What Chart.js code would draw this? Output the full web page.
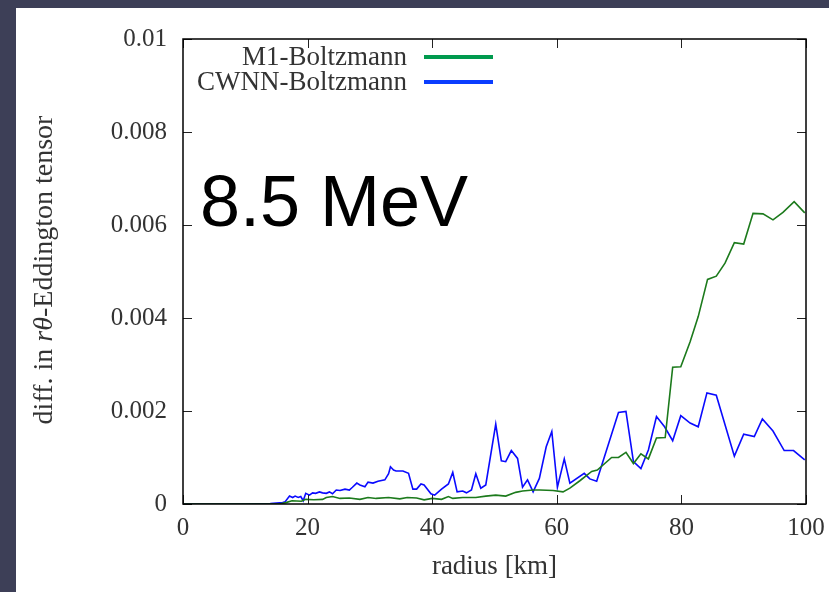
<!DOCTYPE html>
<html>
<head>
<meta charset="utf-8">
<script src="https://cdn.jsdelivr.net/npm/chart.js@4.4.1/dist/chart.umd.min.js"></script>
<style>
    html, body { margin: 0; padding: 0; background: #3d3f57; width: 829px; height: 592px; overflow: hidden; }
    #frame { position: absolute; left: 16px; top: 8px; width: 813px; height: 584px; background: #fff; }
</style>
</head>
<body>
<div id="frame"><canvas id="chart" width="813" height="584"></canvas></div>
<script>
// M1-Boltzmann curve
const m1Radius = [0, 15.5, 16.5, 17.5, 19, 19.7, 21, 22.4, 23, 24, 25.2, 26.7, 28.4, 29.7, 31, 33, 34.8, 36, 37.5, 38.7,
    40, 41.5, 42.6, 43.3, 44.9, 47, 48.6, 50.2, 51.8, 53.4, 54.5, 56.2, 57.3, 59.4, 61.0, 62.1, 63.7, 65.6, 66.5,
    68.8, 69.9, 71.1, 72.3, 73.5, 74.7, 76.0, 77.4, 78.6, 79.9, 81.4, 82.7, 84.2, 85.6, 87.0, 88.5, 90.0, 91.5,
    93.1, 94.7, 96.3, 98.1, 99.8];
const m1Diff = [0, 0, 0.00003, 0.00007, 0.00006, 0.0001, 0.00009, 0.0001, 0.00014, 0.00016, 0.00012, 0.00013, 0.0001,
    0.00014, 0.00012, 0.00014, 0.00011, 0.00014, 0.00013, 0.00009, 0.00012, 0.0001, 0.00016, 0.00012, 0.00014,
    0.00014, 0.00017, 0.00019, 0.00017, 0.00025, 0.00028, 0.0003, 0.0003, 0.00029, 0.00026, 0.00034, 0.0005,
    0.0007, 0.00073, 0.001, 0.001, 0.00111, 0.00087, 0.00108, 0.00097, 0.00142, 0.00143, 0.00294, 0.00295,
    0.00349, 0.00403, 0.00483, 0.0049, 0.00518, 0.00562, 0.00559, 0.00625, 0.00624, 0.00611, 0.00627, 0.0065,
    0.00626];

// CWNN-Boltzmann curve
const cwnnRadius = [0, 10, 14, 16.0, 16.4, 17.1, 17.6, 18.0, 18.5, 18.9, 19.3, 19.7, 20.3, 20.8, 21.3, 21.9, 22.4, 23.0,
    23.5, 24.0, 24.6, 25.2, 26.0, 26.7, 27.2, 27.9, 28.4, 29.2, 29.7, 30.5, 31.3, 32.4, 33.0, 33.3, 33.8, 34.2,
    35.3, 36.2, 36.9, 37.5, 38.2, 38.7, 39.8, 40.4, 41.5, 42.6, 43.3, 44.0, 44.9, 45.5, 46.3, 47.0, 47.8, 48.6,
    50.2, 51.1, 51.8, 52.7, 53.7, 54.5, 55.3, 56.2, 57.2, 58.3, 59.2, 60.1, 61.2, 62.1, 64.4, 65.3, 66.4, 69.9,
    71.1, 72.3, 73.5, 74.7, 76.0, 77.3, 78.6, 79.9, 81.4, 82.7, 84.1, 85.6, 88.5, 90.0, 91.7, 93.0, 94.7, 96.5,
    98.0, 99.8];
const cwnnDiff = [0, 0, 0.00001, 0.00003, 0.00005, 0.00017, 0.00014, 0.00017, 0.00014, 0.00016, 0.00007, 0.00023,
    0.00019, 0.00024, 0.00023, 0.00026, 0.00024, 0.00023, 0.00026, 0.00022, 0.0003, 0.00029, 0.00032, 0.0003,
    0.00036, 0.00045, 0.00041, 0.00037, 0.00047, 0.00045, 0.00049, 0.00052, 0.00065, 0.0008, 0.00073, 0.00071,
    0.00071, 0.00066, 0.00032, 0.00032, 0.00043, 0.00041, 0.00022, 0.00019, 0.00032, 0.00043, 0.00068, 0.00026,
    0.00028, 0.00024, 0.0003, 0.00065, 0.00034, 0.00041, 0.00172, 0.00093, 0.00091, 0.00115, 0.00098, 0.00036,
    0.00052, 0.00026, 0.00055, 0.00123, 0.00156, 0.00036, 0.00097, 0.00045, 0.00066, 0.00054, 0.00049, 0.00197,
    0.00199, 0.00091, 0.00076, 0.00116, 0.00188, 0.00166, 0.00136, 0.0019, 0.00174, 0.00166, 0.00239, 0.00234,
    0.00103, 0.0015, 0.00145, 0.00183, 0.00157, 0.00115, 0.00115, 0.00095];

const seriesLabels = ['M1-Boltzmann', 'CWNN-Boltzmann'];
const xTicks = [0, 20, 40, 60, 80, 100];
const yTicks = [0, 0.002, 0.004, 0.006, 0.008, 0.01];

const SERIF = '"Liberation Serif", "DejaVu Serif", serif';
const TEXT_COLOR = '#333';

const toPoints = (xs, ys) => xs.map((x, i) => ({ x: x, y: ys[i] }));

// frame on all four sides with inward ticks, like gnuplot
const framePlugin = {
    id: 'frame',
    afterDatasetsDraw(chart) {
        const { ctx, chartArea: a, scales } = chart;
        ctx.save();
        ctx.strokeStyle = '#222';
        ctx.lineWidth = 1;
        const len = 9;
        xTicks.forEach(v => {
            const px = Math.round(scales.x.getPixelForValue(v)) + 0.5;
            ctx.beginPath();
            ctx.moveTo(px, a.bottom); ctx.lineTo(px, a.bottom - len);
            ctx.moveTo(px, a.top); ctx.lineTo(px, a.top + len);
            ctx.stroke();
        });
        yTicks.forEach(v => {
            const py = Math.round(scales.y.getPixelForValue(v)) + 0.5;
            ctx.beginPath();
            ctx.moveTo(a.left, py); ctx.lineTo(a.left + len, py);
            ctx.moveTo(a.right, py); ctx.lineTo(a.right - len, py);
            ctx.stroke();
        });
        ctx.strokeStyle = '#000';
        ctx.lineWidth = 1.5;
        ctx.strokeRect(a.left, a.top, a.right - a.left, a.bottom - a.top);
        ctx.restore();
    }
};

// legend in the top-left, text right-aligned with the line sample after it
const legendPlugin = {
    id: 'sampleLegend',
    afterDraw(chart) {
        const { ctx } = chart;
        const sampleColors = ['#009a4e', '#0a3dff'];
        ctx.save();
        ctx.font = '27px ' + SERIF;
        ctx.textAlign = 'right';
        ctx.textBaseline = 'middle';
        chart.data.datasets.forEach((ds, i) => {
            const y = 49 + i * 25;
            ctx.fillStyle = TEXT_COLOR;
            ctx.fillText(ds.label, 391, y + 1);
            ctx.strokeStyle = sampleColors[i];
            ctx.lineWidth = 4;
            ctx.beginPath();
            ctx.moveTo(408, y);
            ctx.lineTo(477, y);
            ctx.stroke();
        });
        ctx.restore();
    }
};

// big energy label and the y-axis title with italic r and theta
const textPlugin = {
    id: 'texts',
    afterDraw(chart) {
        const { ctx } = chart;
        ctx.save();
        ctx.fillStyle = '#000';
        ctx.font = '72px "Liberation Sans", Arial, sans-serif';
        ctx.textAlign = 'left';
        ctx.textBaseline = 'alphabetic';
        ctx.fillText('8.5 MeV', 184, 218);

        const parts = [
            { t: 'diff. in ', f: '28px ' + SERIF },
            { t: 'rθ', f: 'italic 28px ' + SERIF },
            { t: '-Eddington tensor', f: '28px ' + SERIF }
        ];
        let total = 0;
        parts.forEach(p => { ctx.font = p.f; p.w = ctx.measureText(p.t).width; total += p.w; });
        ctx.translate(29, 262);
        ctx.rotate(-Math.PI / 2);
        ctx.fillStyle = TEXT_COLOR;
        ctx.textBaseline = 'middle';
        let x = -total / 2;
        parts.forEach(p => { ctx.font = p.f; ctx.fillText(p.t, x, 0); x += p.w; });
        ctx.restore();
    }
};

new Chart(document.getElementById('chart'), {
    type: 'line',
    data: {
        datasets: [{
            label: seriesLabels[0],
            data: toPoints(m1Radius, m1Diff),
            borderColor: '#1c7a1c',
            borderWidth: 1.6,
            pointRadius: 0,
            tension: 0
        }, {
            label: seriesLabels[1],
            data: toPoints(cwnnRadius, cwnnDiff),
            borderColor: '#0a0aff',
            borderWidth: 1.6,
            pointRadius: 0,
            tension: 0
        }]
    },
    options: {
        responsive: false,
        animation: false,
        devicePixelRatio: 1,
        layout: { padding: { top: 31, right: 23, left: 0, bottom: 0 } },
        plugins: {
            legend: { display: false },
            tooltip: { enabled: false }
        },
        scales: {
            x: {
                type: 'linear',
                min: 0,
                max: 100,
                afterFit: s => { s.height = 88; s.paddingLeft = 0; s.paddingRight = 0; },
                afterBuildTicks: s => { s.ticks = xTicks.map(v => ({ value: v })); },
                grid: { display: false, drawTicks: false },
                border: { display: false },
                ticks: { color: TEXT_COLOR, font: { family: SERIF, size: 25 }, padding: 9, maxRotation: 0, autoSkip: false },
                title: { display: true, text: 'radius [km]', color: TEXT_COLOR, font: { family: SERIF, size: 27 }, padding: { top: 0, bottom: 9 } }
            },
            y: {
                min: 0,
                max: 0.01,
                afterFit: s => { s.width = 167; s.paddingTop = 0; s.paddingBottom = 0; },
                afterBuildTicks: s => { s.ticks = yTicks.map(v => ({ value: v })); },
                grid: { display: false, drawTicks: false },
                border: { display: false },
                ticks: {
                    color: TEXT_COLOR,
                    font: { family: SERIF, size: 25 },
                    padding: 16,
                    callback: v => v === 0 ? '0' : String(+v.toFixed(3))
                }
            }
        }
    },
    plugins: [framePlugin, legendPlugin, textPlugin]
});
</script>
</body>
</html>
